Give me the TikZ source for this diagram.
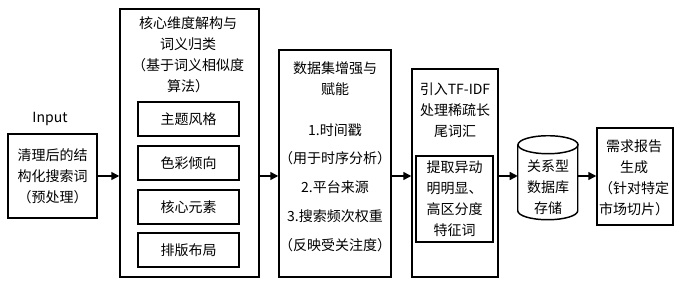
\documentclass[tikz,border=0pt]{standalone}
\usepackage{fontspec}
\setmainfont{Noto Sans CJK SC}
\usetikzlibrary{arrows.meta}
\tikzset{%
	box/.style = { draw, rectangle, line width=1.1pt, inner sep=0pt },
	txt/.style = { align=center, inner sep=0pt, font=\fontsize{10.5}{15.8}\selectfont },
	wide/.style = { txt, font=\fontsize{10.5}{21.6}\selectfont },
	flow/.style = { line width=1.1pt, -{Triangle[length=6pt, width=6pt]} },
	dbline/.style = { line width=1.1pt }
}

\begin{document}
\begin{tikzpicture}[x=0.75pt, y=-0.75pt]
	\useasboundingbox (0,0) rectangle (678,281);
	% 1. 输入
	\node[txt] (inlabel) at (50,119) {Input};
	\node[box, minimum width=66.75pt, minimum height=63pt] (in) at (52.5,176) {};
	\node[txt] (intext) at (52.5,176) {清理后的结\\构化搜索词\\（预处理）};

	% 2. 核心维度解构
	\node[box, minimum width=104.25pt, minimum height=201pt] (dim) at (189.5,143) {};
	\node[txt] (dimtitle) at (188,55) {核心维度解构与\\词义归类\\（基于词义相似度\\算法）};
	\node[box, txt, minimum width=75.75pt, minimum height=25.5pt] (style) at (188.5,119) {主题风格};
	\node[box, txt, minimum width=75.75pt, minimum height=25.5pt] (color) at (188.5,163) {色彩倾向};
	\node[box, txt, minimum width=75.75pt, minimum height=25.5pt] (elem) at (188.5,207) {核心元素};
	\node[box, txt, minimum width=75.75pt, minimum height=25.5pt] (layout) at (188.5,250) {排版布局};

	% 3. 数据集增强
	\node[box, minimum width=84pt, minimum height=170.25pt] (aug) at (335,163.5) {};
	\node[txt] (augtitle) at (335,78.5) {数据集增强与\\赋能};
	\node[wide] (auglist) at (335,187.5) {1.时间戳\\（用于时序分析）\\2.平台来源\\3.搜索频次权重\\（反映受关注度）};

	% 4. TF-IDF
	\node[box, minimum width=64.5pt, minimum height=156pt] (tf) at (455,173) {};
	\node[txt] (tftitle) at (455,110) {引入TF-IDF\\处理稀疏长\\尾词汇};
	\node[box, minimum width=57.75pt, minimum height=64.5pt] (feat) at (454.5,199) {};
	\node[txt] (feattext) at (454.5,199) {提取异动\\明明显、\\高区分度\\特征词};

	% 5. 数据库（圆柱）
	\node[inner sep=0pt, minimum width=45pt, minimum height=63pt] (db) at (548,178) {};
	\draw[dbline] (db.north) ++(0,9) ellipse [x radius=30, y radius=9];
	\draw[dbline] (db.north west) ++(0,9) -- ++(0,66) arc[start angle=180, end angle=0, x radius=30, y radius=9] -- ++(0,-66);
	\node[txt] (dbtext) at (548,187) {关系型\\数据库\\存储};

	% 6. 报告
	\node[box, minimum width=57pt, minimum height=72.75pt] (rep) at (635,176.5) {};
	\node[txt] (reptext) at (634,177.5) {需求报告\\生成\\（针对特定\\市场切片）};

	% 连接箭头
	\draw[flow] (in.east) -- (in.east -| dim.west);
	\draw[flow] (in.east -| dim.east) -- (in.east -| aug.west);
	\draw[flow] (in.east -| aug.east) -- (in.east -| tf.west);
	\draw[flow] (in.east -| tf.east) -- (in.east -| db.west);
	\draw[flow] (in.east -| db.east) -- (in.east -| rep.west);
\end{tikzpicture}
\end{document}
